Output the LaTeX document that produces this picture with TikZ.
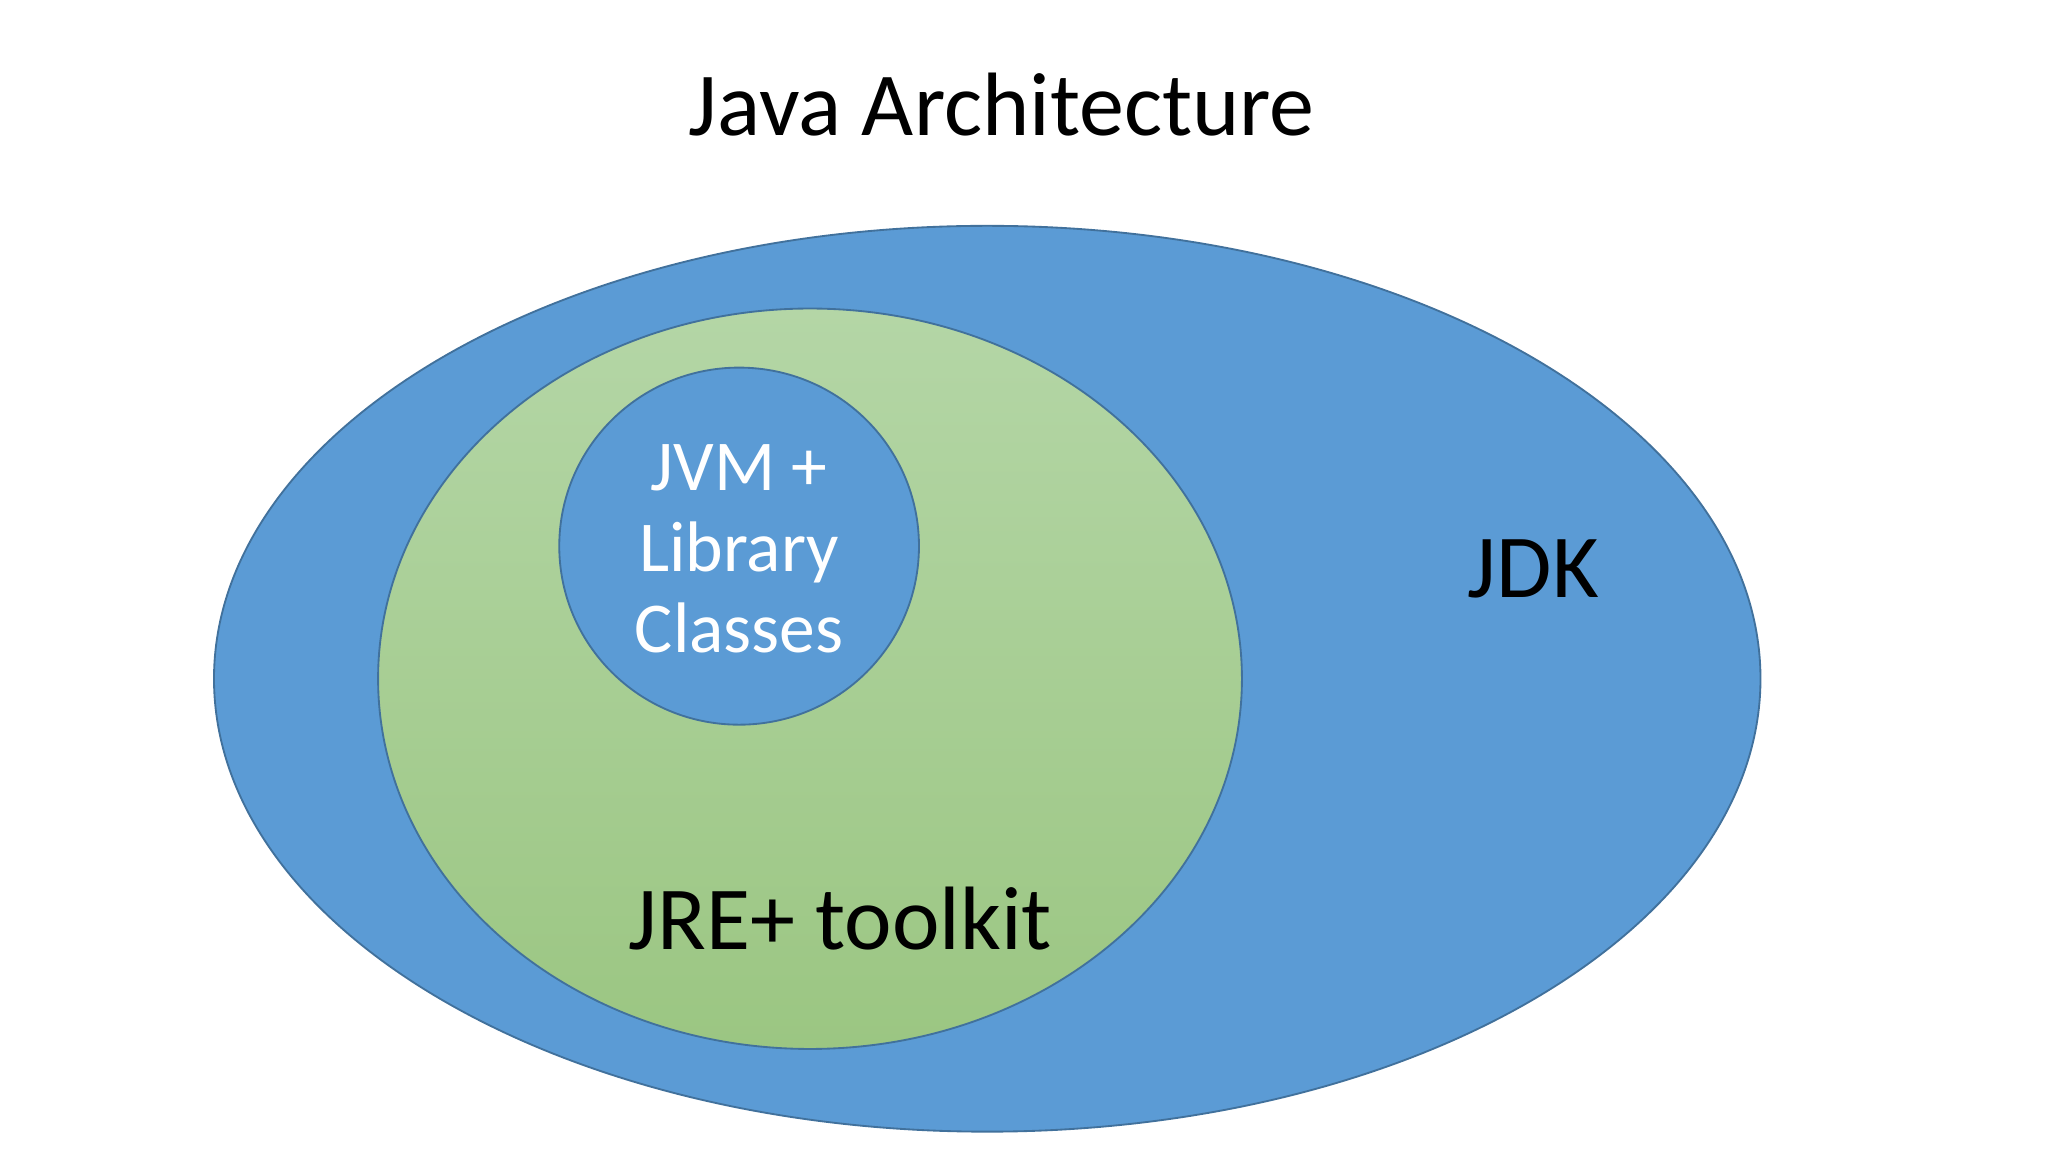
\documentclass[tikz,border=0pt]{standalone}
\usepackage{fontspec}
\setmainfont{Carlito}
\definecolor{jdkblue}{HTML}{5B9BD5}
\definecolor{edge}{HTML}{41719C}
\definecolor{gtop}{HTML}{B4D6A6}
\definecolor{gbot}{HTML}{9BC682}
\begin{document}
\begin{tikzpicture}[x=0.01cm,y=-0.01cm,
  lbl/.style={font=\fontsize{19.5pt}{23pt}\selectfont,text=black}]
\useasboundingbox (0,0) rectangle (1560,878);
\fill[white] (0,0) rectangle (1560,878);
\draw[edge,fill=jdkblue] (752,517) ellipse [x radius=589,y radius=345];
\coordinate (jdk) at (752,517);
\path[draw=edge,top color=gtop,bottom color=gbot] (617,517) ellipse [x radius=329,y radius=282];
\coordinate (jre) at (617,517);
\draw[edge,fill=jdkblue] (563,416) ellipse [x radius=137,y radius=136];
\coordinate (jvm) at (563,416);
\node[lbl] (title) at (763,80) {Java Architecture};
\node[lbl] (jdklbl) at (1168,433) {JDK};
\node[lbl] (jrelbl) at (640,700) {JRE+ toolkit};
\node[align=center,text=white,font=\fontsize{15.5pt}{17.6pt}\selectfont] (jvmlbl) at (563,418) {JVM +\\Library\\Classes};
\end{tikzpicture}
\end{document}
